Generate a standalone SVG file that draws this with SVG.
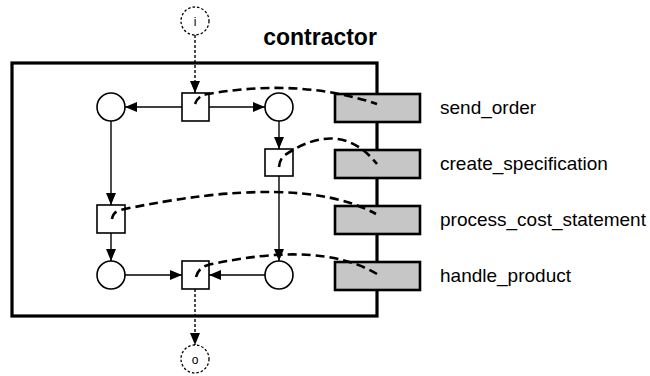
<svg xmlns="http://www.w3.org/2000/svg" width="650" height="376" viewBox="0 0 650 376">
<defs>
<marker id="ah" markerWidth="12" markerHeight="10" refX="12" refY="5" orient="auto" markerUnits="userSpaceOnUse">
<path d="M0,0 L12,5 L0,10 Z" fill="#000"/>
</marker>
<style>
.place{fill:#fff;stroke:#000;stroke-width:1.6}
.trans{fill:#fff;stroke:#000;stroke-width:1.6}
.ext{fill:#fff;stroke:#000;stroke-width:1.3;stroke-dasharray:2.5 2}
.arc{fill:none;stroke:#000;stroke-width:1.4;marker-end:url(#ah)}
.darc{fill:none;stroke:#000;stroke-width:1.4;stroke-dasharray:3 2;marker-end:url(#ah)}
.link{fill:none;stroke:#000;stroke-width:2.6;stroke-dasharray:9 5}
.task{fill:#c6c6c6;stroke:#000;stroke-width:2.6}
.lbl{font-family:"Liberation Sans",Arial,sans-serif;font-size:19px;fill:#000}
</style>
</defs>
<rect width="650" height="376" fill="#fff"/>
<g id="contractor">
<rect x="12" y="63" width="365" height="253" fill="none" stroke="#000" stroke-width="3.2"/>
<text x="320" y="45" text-anchor="middle" font-family="'Liberation Sans',Arial,sans-serif" font-size="23" font-weight="bold">contractor</text>
</g>
<g id="connectors">
<line class="darc" x1="195" y1="35" x2="195" y2="93"/>
<line class="arc" x1="182" y1="107" x2="125" y2="107"/>
<line class="arc" x1="209" y1="107" x2="265" y2="107"/>
<line class="arc" x1="279" y1="121" x2="279" y2="149"/>
<line class="arc" x1="111" y1="121" x2="111" y2="205"/>
<line class="arc" x1="279" y1="176" x2="279" y2="261"/>
<line class="arc" x1="111" y1="233" x2="111" y2="261"/>
<line class="arc" x1="125" y1="275" x2="182" y2="275"/>
<line class="arc" x1="265" y1="275" x2="209" y2="275"/>
<line class="darc" x1="195" y1="289" x2="195" y2="345"/>
</g>
<g id="i"><circle class="ext" cx="195" cy="21" r="14"/><text x="195" y="25.5" text-anchor="middle" font-family="'Liberation Sans',Arial,sans-serif" font-size="12">i</text></g>
<g id="o"><circle class="ext" cx="195" cy="359" r="14"/><text x="195" y="363.5" text-anchor="middle" font-family="'Liberation Sans',Arial,sans-serif" font-size="12">o</text></g>
<g id="p1"><circle class="place" cx="111" cy="107" r="14"/></g>
<g id="p2"><circle class="place" cx="279" cy="107" r="14"/></g>
<g id="p3"><circle class="place" cx="111" cy="275" r="14"/></g>
<g id="p4"><circle class="place" cx="279" cy="275" r="14"/></g>
<g id="t_send"><rect class="trans" x="182" y="93" width="27" height="28"/></g>
<g id="t_spec"><rect class="trans" x="265" y="149" width="28" height="27"/></g>
<g id="t_cost"><rect class="trans" x="97" y="205" width="28" height="28"/></g>
<g id="t_prod"><rect class="trans" x="182" y="261" width="27" height="28"/></g>
<g id="task_send_order"><rect class="task" x="335" y="94" width="85" height="28"/><text class="lbl" x="440" y="114">send_order</text></g>
<g id="task_create_specification"><rect class="task" x="335" y="150" width="85" height="28"/><text class="lbl" x="440" y="170">create_specification</text></g>
<g id="task_process_cost_statement"><rect class="task" x="335" y="206" width="85" height="28"/><text class="lbl" x="440" y="226">process_cost_statement</text></g>
<g id="task_handle_product"><rect class="task" x="335" y="262" width="85" height="28"/><text class="lbl" x="440" y="282">handle_product</text></g>
<g id="links">
<path class="link" d="M195,104 Q198,95 208,94 Q300,78 377,104"/>
<path class="link" d="M279,167 Q280,158 285,155 Q340,118 377,164"/>
<path class="link" d="M112,219 Q113,212 120,210 Q300,172 376,214"/>
<path class="link" d="M196,277 Q198,268 208,265 Q320,240 377,274"/>
</g>
</svg>
